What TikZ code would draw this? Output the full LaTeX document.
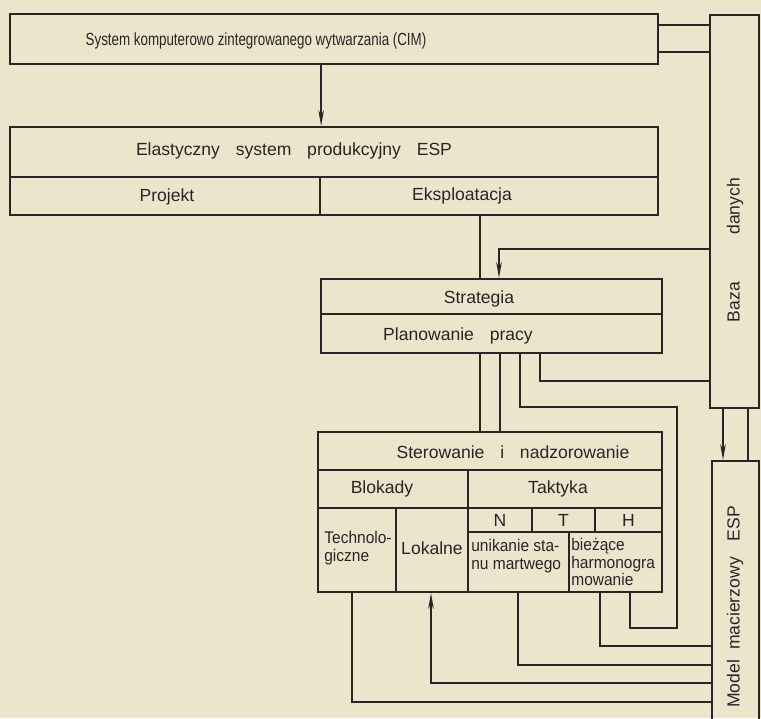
\documentclass[tikz,border=0pt]{standalone}
\usepackage{fontspec}
\setmainfont{Liberation Sans}
\newfontfamily\narrowfont[FakeStretch=0.76]{Liberation Sans}
\newfontfamily\cellfont[FakeStretch=0.92]{Liberation Sans}
\usetikzlibrary{arrows.meta,fit,calc}
\definecolor{paper}{RGB}{236,229,203}
\definecolor{ink}{RGB}{38,38,40}
\newcommand{\gap}{\hspace{0.9em}}
\tikzset{
  box/.style={draw=ink, line width=1.3pt, inner sep=0pt, fit={#1}},
  wire/.style={draw=ink, line width=1pt},
  arr/.style={wire, -{Stealth[length=9pt,width=3.2pt]}},
  lbl/.style={font=\fontsize{10}{11}\selectfont, text=ink, inner sep=0pt},
  tiny/.style={font=\cellfont\fontsize{9.6}{10}\selectfont, text=ink, inner sep=0pt, align=left},
}
\begin{document}
\begin{tikzpicture}[x=0.02cm, y=-0.02cm]

\useasboundingbox (0,0) rectangle (761,718);
\fill[paper] (0,0) rectangle (761,718);

\node[box={(10,14) (658,64)}] (cim) {};
\node[lbl, font=\narrowfont\fontsize{10}{11}\selectfont] (cimtxt) at (256,41) {System komputerowo zintegrowanego wytwarzania (CIM)};

\node[box={(10,127) (658,177)}] (esp) {};
\node[box={(10,177) (320,215)}] (proj) {};
\node[box={(320,177) (658,215)}] (eksp) {};
\node[lbl] (esptxt) at (294,151) {Elastyczny\gap system\gap produkcyjny\gap ESP};
\node[lbl] (projtxt) at (167,197) {Projekt};
\node[lbl] (eksptxt) at (462,196) {Eksploatacja};

\node[box={(321,279) (662,314)}] (strat) {};
\node[box={(321,314) (662,353)}] (plan) {};
\node[lbl] (strattxt) at (479,299) {Strategia};
\node[lbl] (plantxt) at (458,336) {Planowanie\gap pracy};

\node[box={(318,432) (662,470)}] (ster) {};
\node[box={(318,470) (468,508)}] (blok) {};
\node[box={(468,470) (662,508)}] (takt) {};
\node[box={(318,508) (396,592)}] (techn) {};
\node[box={(396,508) (468,592)}] (lok) {};
\node[box={(468,508) (532,532)}] (n) {};
\node[box={(532,508) (595,532)}] (t) {};
\node[box={(595,508) (662,532)}] (h) {};
\node[box={(468,532) (569,592)}] (unik) {};
\node[box={(569,532) (662,592)}] (biez) {};
\node[lbl] (stertxt) at (513,452) {Sterowanie\gap i\gap nadzorowanie};
\node[lbl] (bloktxt) at (382,489) {Blokady};
\node[lbl] (takttxt) at (558,489) {Taktyka};
\node[lbl] (ntxt) at (n) {N};
\node[lbl] (ttxt) at (t) {T};
\node[lbl] (htxt) at (h) {H};
\node[tiny, anchor=west] (techntxt) at (324,548) {Technolo-\\giczne};
\node[lbl] (loktxt) at (432,548) {Lokalne};
\node[tiny, anchor=north west] (uniktxt) at (471,539) {unikanie sta-\\nu martwego};
\node[tiny, anchor=north west] (bieztxt) at (571,538) {bieżące\\harmonogra\\mowanie};

\node[box={(710,15) (759,408)}] (baza) {};
\node[box={(712,461) (759,730)}] (model) {};
\node[lbl, rotate=90] (bazatxt) at (735,250) {Baza\gap\gap\gap danych};
\node[lbl, rotate=90] (modeltxt) at (735,607) {Model\hspace{0.3em} macierzowy\gap ESP};

\draw[arr] (cim.south -| proj.north east) -- (proj.north east |- esp.north);
\draw[wire] (cim.east |- 0,25) -- (baza.west |- 0,25);
\draw[wire] (cim.east |- 0,52) -- (baza.west |- 0,52);

\draw[wire] (eksp.south -| 480,0) -- (strat.north -| 480,0);
\draw[arr] (baza.west |- 0,249) -| (strat.north -| 499,0);

\draw[wire] (plan.south -| 480,0) -- (ster.north -| 480,0);
\draw[wire] (plan.south -| 500,0) -- (ster.north -| 500,0);
\draw[wire] (plan.south -| 540,0) |- (baza.west |- 0,381);
\draw[wire] (plan.south -| 520,0) |- (677,407) |- (630,628) -- (biez.south -| 630,0);

\draw[arr] (baza.south -| 723,0) -- (model.north -| 723,0);
\draw[wire] (baza.south -| 748,0) -- (model.north -| 748,0);

\draw[wire] (biez.south -| 600,0) |- (model.west |- 0,646);
\draw[wire] (unik.south -| 518,0) |- (model.west |- 0,665);
\draw[arr] (model.west |- 0,683) -| (lok.south -| 431,0);
\draw[wire] (techn.south -| 352,0) |- (model.west |- 0,702);

\end{tikzpicture}
\end{document}
